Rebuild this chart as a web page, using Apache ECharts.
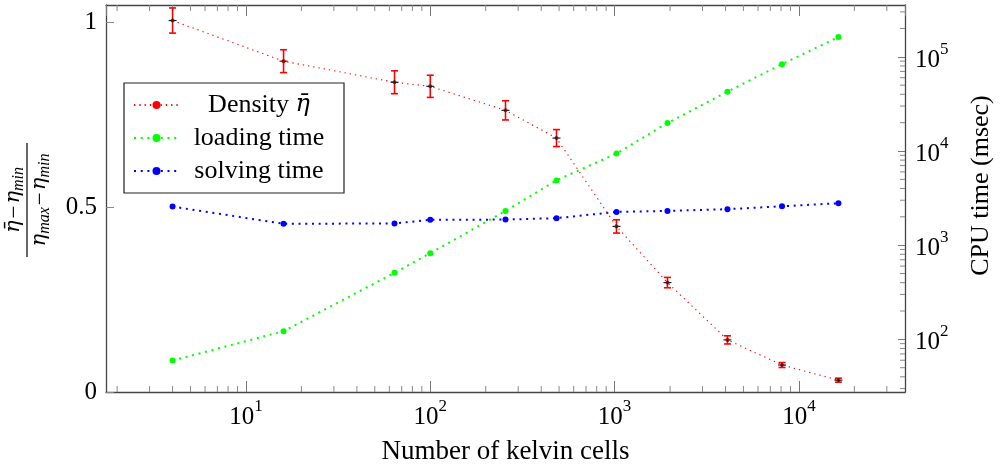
<!DOCTYPE html>
<html>
<head>
<meta charset="utf-8">
<script src="https://cdn.jsdelivr.net/npm/echarts@6/dist/echarts.min.js"></script>
<style>
html,body{margin:0;padding:0;background:#fff;}
#chart{width:1002px;height:470px;}
</style>
</head>
<body>
<div id="chart"></div>
<script>
// ---- data ----
const cells      = [4, 16, 64, 100, 256, 484, 1024, 1936, 4096, 8100, 16384];
const density    = [1.005, 0.895, 0.838, 0.827, 0.762, 0.687, 0.448, 0.296, 0.141, 0.073, 0.032];
const densityErr = [0.034, 0.031, 0.031, 0.030, 0.026, 0.023, 0.018, 0.014, 0.011, 0.0067, 0.0054];
const loading    = [59.6, 122, 509, 822, 2310, 4875, 9400, 19800, 42650, 83600, 162000];
const solving    = [2570, 1687, 1700, 1858, 1870, 1936, 2255, 2310, 2410, 2590, 2787];
const seriesNames = ['Density \u03B7\u0304', 'loading time', 'solving time'];
const xTitle = 'Number of kelvin cells';
const yRightTitle = 'CPU time (msec)';
const leftTicks = [0, 0.5, 1];

// ---- axis ranges ----
const X_MIN = 1.741, X_MAX = 37640;
const YL_MIN = 0, YL_MAX = 1.047;
const YR_MIN = 27.6, YR_MAX = 355000;

function minorTicks(lo, hi) {
  const out = [];
  for (let e = -1; e <= 6; e++) {
    for (let k = 2; k <= 9; k++) {
      const v = k * Math.pow(10, e);
      if (v > lo && v < hi) out.push(v);
    }
  }
  return out;
}
const xMinor = minorTicks(X_MIN, X_MAX);
const yMinor = minorTicks(YR_MIN, YR_MAX);

const F = 'Liberation Serif';
const FM = 'DejaVu Serif';
const AX = '#444';
const LEG_FS = 26;
const LEG_W = 150;

const mctx = document.createElement('canvas').getContext('2d');
function tw(txt, font) { mctx.font = font; return mctx.measureText(txt).width; }

function powLabel(v) {
  const e = Math.round(Math.log10(v));
  return '{b|10}{s|' + e + '}';
}
const powRich = {
  b: { fontFamily: F, fontSize: 25, color: '#000', lineHeight: 32, verticalAlign: 'bottom' },
  s: { fontFamily: F, fontSize: 17, color: '#000', lineHeight: 19, verticalAlign: 'top' }
};

function legendFmt(n) {
  if (n === seriesNames[0]) return '{d|Density }{e|\u03B7\u0304}';
  return '{t|' + n + '}';
}
const densW = tw('Density ', LEG_FS + 'px "' + F + '"') + tw('\u03B7\u0304', 'italic ' + (LEG_FS - 2) + 'px "' + FM + '"');
const densPad = Math.max(0, (LEG_W - densW) / 2);

const fracRich = {
  i: { fontFamily: FM, fontSize: 21, fontStyle: 'italic', fill: '#000', lineHeight: 24, verticalAlign: 'top' },
  o: { fontFamily: F, fontSize: 23, fill: '#000', lineHeight: 24, verticalAlign: 'top', padding: [0, 2, 0, 2] },
  s: { fontFamily: F, fontSize: 16, fontStyle: 'italic', fill: '#000', lineHeight: 16, verticalAlign: 'bottom' }
};

const chart = echarts.init(document.getElementById('chart'), null, { renderer: 'canvas' });

const option = {
  animation: false,
  backgroundColor: '#fff',
  grid: { left: 106, right: 97, top: 5, bottom: 76, containLabel: false },
  legend: {
    data: seriesNames,
    orient: 'vertical',
    left: 124, top: 83,
    padding: [9, 10, 9, 9],
    itemGap: 7,
    itemWidth: 45, itemHeight: 10,
    backgroundColor: '#fff',
    borderColor: '#222', borderWidth: 1.2,
    borderRadius: 0,
    selectedMode: false,
    formatter: legendFmt,
    textStyle: {
      fontFamily: F, fontSize: LEG_FS, color: '#000', lineHeight: 26,
      rich: {
        t: { fontFamily: F, fontSize: LEG_FS, color: '#000', width: LEG_W, align: 'center', lineHeight: 26 },
        d: { fontFamily: F, fontSize: LEG_FS, color: '#000', lineHeight: 26, padding: [0, 0, 0, densPad] },
        e: { fontFamily: FM, fontSize: LEG_FS - 2, fontStyle: 'italic', color: '#000', lineHeight: 26, padding: [0, densPad, 0, 0] }
      }
    }
  },
  xAxis: [
    {
      type: 'log', logBase: 10, min: X_MIN, max: X_MAX, position: 'bottom',
      axisLine: { show: true, lineStyle: { color: AX, width: 1.3 } },
      axisTick: { show: true, inside: true, length: 11, lineStyle: { color: '#777', width: 1 } },
      splitLine: { show: false },
      axisLabel: {
        show: true, margin: 6, showMinLabel: false, showMaxLabel: false,
        formatter: powLabel, rich: powRich
      },
      name: xTitle, nameLocation: 'middle', nameGap: 46,
      nameTextStyle: { fontFamily: F, fontSize: 27, color: '#000' }
    },
    {
      type: 'log', logBase: 10, min: X_MIN, max: X_MAX, position: 'top',
      axisLine: { show: true, lineStyle: { color: AX, width: 1.3 } },
      axisTick: { show: true, inside: true, length: 11, lineStyle: { color: '#777', width: 1 } },
      splitLine: { show: false },
      axisLabel: { show: false }
    }
  ],
  yAxis: [
    {
      type: 'value', min: YL_MIN, max: YL_MAX, interval: 0.5, position: 'left',
      axisLine: { show: true, lineStyle: { color: AX, width: 1.3 } },
      axisTick: { show: true, inside: true, length: 8, lineStyle: { color: '#888', width: 1 } },
      splitLine: { show: false },
      axisLabel: {
        margin: 9, showMaxLabel: false,
        fontFamily: F, fontSize: 25, color: '#000',
        formatter: v => (leftTicks.indexOf(v) >= 0 ? String(v) : '')
      }
    },
    {
      type: 'log', logBase: 10, min: YR_MIN, max: YR_MAX, position: 'right',
      axisLine: { show: true, lineStyle: { color: AX, width: 1.3 } },
      axisTick: { show: true, inside: true, length: 7, lineStyle: { color: '#777', width: 1 } },
      splitLine: { show: false },
      axisLabel: {
        margin: 10, showMinLabel: false, showMaxLabel: false,
        formatter: powLabel, rich: powRich
      },
      name: yRightTitle, nameLocation: 'middle', nameGap: 63, nameRotate: 90,
      nameTextStyle: { fontFamily: F, fontSize: 26, color: '#000', padding: [0, 0, 0, 26] }
    }
  ],
  graphic: [
    {
      type: 'group', x: 27, y: 200, rotation: Math.PI / 2,
      children: [
        { type: 'line', shape: { x1: -57, y1: 0, x2: 57, y2: 0 }, style: { stroke: '#000', lineWidth: 1.2 } },
        {
          type: 'text', x: 0, y: -12,
          style: { text: '{i|\u03B7\u0304}{o|\u2212}{i|\u03B7}{s|min}', align: 'center', verticalAlign: 'middle', rich: fracRich }
        },
        {
          type: 'text', x: 0, y: 14,
          style: { text: '{i|\u03B7}{s|max}{o|\u2212}{i|\u03B7}{s|min}', align: 'center', verticalAlign: 'middle', rich: fracRich }
        }
      ]
    }
  ],
  series: [
    {
      name: seriesNames[0], type: 'line', xAxisIndex: 0, yAxisIndex: 0,
      data: cells.map((c, i) => [c, density[i]]),
      symbol: 'circle', symbolSize: 4, showSymbol: true,
      itemStyle: { color: '#ff0000' },
      lineStyle: { color: '#ff0000', width: 1.1, type: [1.3, 4] },
      z: 3
    },
    {
      name: seriesNames[1], type: 'line', xAxisIndex: 0, yAxisIndex: 1,
      data: cells.map((c, i) => [c, loading[i]]),
      symbol: 'circle', symbolSize: 6,
      itemStyle: { color: '#00ff00' },
      lineStyle: { color: '#00ff00', width: 2, type: [2, 4.7] },
      z: 2
    },
    {
      name: seriesNames[2], type: 'line', xAxisIndex: 0, yAxisIndex: 1,
      data: cells.map((c, i) => [c, solving[i]]),
      symbol: 'circle', symbolSize: 6,
      itemStyle: { color: '#0000ff' },
      lineStyle: { color: '#0000ff', width: 2, type: [2, 4.7] },
      z: 2
    },
    {
      name: 'errbars', type: 'custom', xAxisIndex: 0, yAxisIndex: 0, silent: true, z: 5,
      data: cells.map((c, i) => [c, density[i], densityErr[i]]),
      renderItem: function (params, api) {
        const x = api.value(0), m = api.value(1), e = api.value(2);
        const t = api.coord([x, m + e]), b = api.coord([x, m - e]), c = api.coord([x, m]);
        const red = { stroke: '#ff0000', lineWidth: 1.6 };
        return {
          type: 'group',
          children: [
            { type: 'line', shape: { x1: t[0], y1: t[1], x2: b[0], y2: b[1] }, style: red },
            { type: 'line', shape: { x1: t[0] - 3.5, y1: t[1], x2: t[0] + 3.5, y2: t[1] }, style: red },
            { type: 'line', shape: { x1: b[0] - 3.5, y1: b[1], x2: b[0] + 3.5, y2: b[1] }, style: red },
            { type: 'line', shape: { x1: c[0] - 4, y1: c[1], x2: c[0] + 4, y2: c[1] }, style: { stroke: '#222', lineWidth: 1.2 } },
            { type: 'line', shape: { x1: c[0], y1: c[1] - 2, x2: c[0], y2: c[1] + 2 }, style: { stroke: '#222', lineWidth: 1 } }
          ]
        };
      }
    },
    {
      name: 'xminor', type: 'custom', xAxisIndex: 0, yAxisIndex: 0, silent: true, z: 1,
      data: xMinor.map(v => [v, 0.5]),
      renderItem: function (params, api) {
        const cs = params.coordSys;
        const px = api.coord([api.value(0), 0.5])[0];
        const st = { stroke: '#888', lineWidth: 1 };
        return {
          type: 'group',
          children: [
            { type: 'line', shape: { x1: px, y1: cs.y + cs.height, x2: px, y2: cs.y + cs.height - 6 }, style: st },
            { type: 'line', shape: { x1: px, y1: cs.y, x2: px, y2: cs.y + 6 }, style: st }
          ]
        };
      }
    },
    {
      name: 'yminor', type: 'custom', xAxisIndex: 0, yAxisIndex: 1, silent: true, z: 1,
      data: yMinor.map(v => [100, v]),
      renderItem: function (params, api) {
        const cs = params.coordSys;
        const py = api.coord([100, api.value(1)])[1];
        return {
          type: 'line',
          shape: { x1: cs.x + cs.width, y1: py, x2: cs.x + cs.width - 5, y2: py },
          style: { stroke: '#888', lineWidth: 1 }
        };
      }
    }
  ]
};
chart.setOption(option);
</script>
</body>
</html>
